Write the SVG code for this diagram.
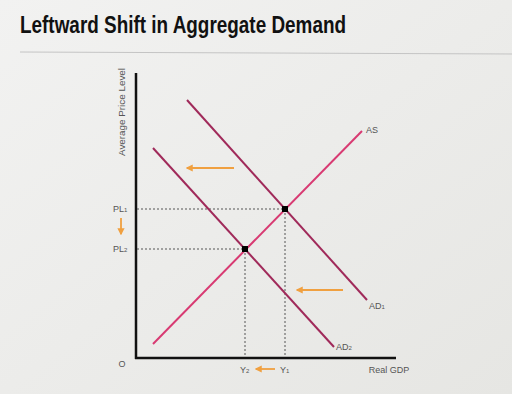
<svg xmlns="http://www.w3.org/2000/svg" width="512" height="394" viewBox="0 0 512 394">
<defs>
<linearGradient id="bg" x1="0" y1="0" x2="1" y2="1">
<stop offset="0" stop-color="#f2f2f1"/>
<stop offset="1" stop-color="#e6e6e3"/>
</linearGradient>
<marker id="ah" viewBox="0 0 10 10" refX="8" refY="5" markerWidth="4" markerHeight="4" orient="auto">
<path d="M0,0 L10,5 L0,10 z" fill="#f0a040"/>
</marker>
<style>
.lbl{font-family:"Liberation Sans",Arial,sans-serif;font-size:9px;fill:#555}
.ad{stroke:#a02a5a;stroke-width:2;fill:none}
.as{stroke:#d83a72;stroke-width:2;fill:none}
.dot{stroke:#555;stroke-width:1;stroke-dasharray:2,2;fill:none}
.arr{stroke:#f0a040;stroke-width:1.8;fill:none}
.ax{stroke:#111;stroke-width:2.5;fill:none}
</style>
</defs>
<rect width="512" height="394" fill="url(#bg)"/>
<text x="20" y="33" font-family="Liberation Sans,Arial,sans-serif" font-weight="bold" font-size="23" fill="#111" textLength="326" lengthAdjust="spacingAndGlyphs">Leftward Shift in Aggregate Demand</text>
<line x1="20" y1="52" x2="512" y2="54" stroke="#c4c4c4" stroke-width="1"/>
<g id="axes">
<line class="ax" x1="136" y1="73" x2="136" y2="359"/>
<line class="ax" x1="135" y1="358" x2="396" y2="358"/>
<text class="lbl" transform="translate(125,112) rotate(-90)" text-anchor="middle" font-size="10" textLength="88" lengthAdjust="spacingAndGlyphs">Average Price Level</text>
<text class="lbl" x="122" y="367" text-anchor="middle" font-size="10">O</text>
<text class="lbl" x="389" y="373" text-anchor="middle">Real GDP</text>
</g>
<g id="connectors">
<line class="dot" x1="137" y1="209" x2="285" y2="209"/>
<line class="dot" x1="137" y1="249" x2="245" y2="249"/>
<line class="dot" x1="285" y1="209" x2="285" y2="357"/>
<line class="dot" x1="245" y1="249" x2="245" y2="357"/>
<line class="arr" x1="234" y1="168" x2="187" y2="168" marker-end="url(#ah)"/>
<line class="arr" x1="343" y1="290" x2="297" y2="290" marker-end="url(#ah)"/>
<line class="arr" x1="121" y1="218" x2="121" y2="234" marker-end="url(#ah)"/>
<line class="arr" x1="275" y1="369" x2="256" y2="369" marker-end="url(#ah)"/>
</g>
<g id="AS">
<line class="as" x1="153" y1="344" x2="362" y2="131"/>
<text class="lbl" x="366" y="133">AS</text>
</g>
<g id="AD1">
<line class="ad" x1="187" y1="100" x2="367" y2="300"/>
<text class="lbl" x="369" y="309">AD<tspan font-size="6">1</tspan></text>
</g>
<g id="AD2">
<line class="ad" x1="153" y1="148" x2="334" y2="347"/>
<text class="lbl" x="336" y="350">AD<tspan font-size="6">2</tspan></text>
</g>
<g id="E1">
<rect x="282" y="206" width="6" height="6" fill="#000"/>
</g>
<g id="E2">
<rect x="242" y="246" width="6" height="6" fill="#000"/>
</g>
<g id="labels">
<text class="lbl" x="113" y="212">PL<tspan font-size="6">1</tspan></text>
<text class="lbl" x="113" y="252">PL<tspan font-size="6">2</tspan></text>
<text class="lbl" x="240" y="373">Y<tspan font-size="6">2</tspan></text>
<text class="lbl" x="280" y="373">Y<tspan font-size="6">1</tspan></text>
</g>
</svg>
